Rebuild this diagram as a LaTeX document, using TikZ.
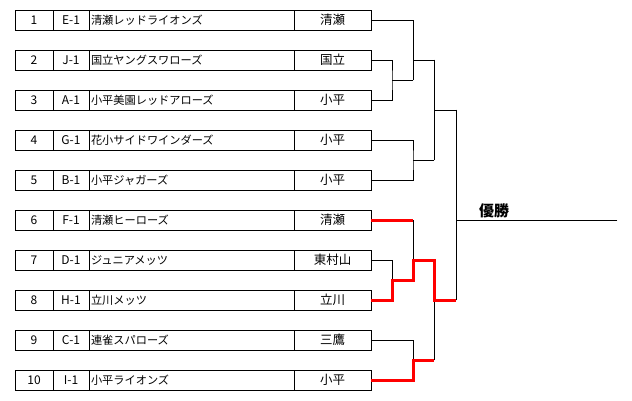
\documentclass[tikz,border=0pt]{standalone}
\usepackage{fontspec}
\newfontfamily\jp{Noto Sans CJK JP}
\begin{document}
\begin{tikzpicture}[x=1pt,y=1pt,
  cell/.style={draw, line width=0.8pt, minimum height=20pt, inner sep=0pt, outer sep=0pt, anchor=west, font=\jp\fontsize{11.2}{11.2}\selectfont},
  numc/.style={cell, minimum width=38pt, font=\jp\fontsize{12}{12}\selectfont},
  codec/.style={cell, minimum width=36pt, font=\jp\fontsize{12}{12}\selectfont},
  namec/.style={cell, text width=201pt, inner xsep=2pt, align=left},
  cityc/.style={cell, minimum width=77pt, font=\jp\fontsize{12.5}{12.5}\selectfont},
  br/.style={line width=0.8pt, line cap=rect},
  win/.style={line width=3pt, draw=red, line join=miter}]
\useasboundingbox (0,0) rectangle (632,-401);
\foreach \i/\n/\c/\t/\city in {1/1/E-1/清瀬レッドライオンズ/清瀬, 2/2/J-1/国立ヤングスワローズ/国立, 3/3/A-1/小平美園レッドアローズ/小平, 4/4/G-1/花小サイドワインダーズ/小平, 5/5/B-1/小平ジャガーズ/小平, 6/6/F-1/清瀬ヒーローズ/清瀬, 7/7/D-1/ジュニアメッツ/東村山, 8/8/H-1/立川メッツ/立川, 9/9/C-1/連雀スパローズ/三鷹, 10/10/I-1/小平ライオンズ/小平}{
  \pgfmathsetmacro\yy{-20-40*(\i-1)}
  \node[numc] (n\i) at (15,\yy) {\n};
  \node[codec] (k\i) at (53,\yy) {\c};
  \node[namec] (t\i) at (89,\yy) {\t};
  \node[cityc] (c\i) at (294,\yy) {\city};
}
\coordinate (q23) at (392,-80);
\coordinate (s123) at (413,-60);
\coordinate (q45) at (413,-160);
\coordinate (s15) at (434,-110);
\coordinate (f) at (456,-220);
\coordinate (q78) at (392,-280);
\coordinate (s678) at (413,-260);
\coordinate (q910) at (413,-360);
\coordinate (s610) at (434,-300);
\coordinate (fin) at (617,-220);
% top half
\draw[br] (c2.east) -| (q23) |- (c3.east);
\draw[br] (q23) -- (q23 -| s123);
\draw[br] (c1.east) -| (q23 -| s123);
\draw[br] (s123) -- (s123 -| s15);
\draw[br] (c4.east) -| (q45) |- (c5.east);
\draw[br] (q45) -- (q45 -| s15);
\draw[br] (s123 -| s15) -- (q45 -| s15);
\draw[br] (s15) -- (s15 -| f);
\draw[br] (s15 -| f) -- (s610 -| f);
\draw[br] (f) -- (fin);
% bottom half
\draw[br] (c6.east -| s678) -- (s678);
\draw[br] (c7.east) -| (q78);
\draw[br] (c9.east) -| (q910);
\draw[br] (s610) -- (q910 -| s610);
\draw[win] (c6.east) -- (c6.east -| s678);
\draw[win] (c8.east) -| (q78) -- (q78 -| s678) -- (s678) -- (s678 -| s610) -- (s610) -- (s610 -| f);
\draw[win] (c10.east) -| (q910) -- (q910 -| s610);
\node[anchor=west, inner sep=0pt, font=\jp\bfseries\fontsize{15}{15}\selectfont] (champ) at (479,-211) {優勝};
\end{tikzpicture}
\end{document}
